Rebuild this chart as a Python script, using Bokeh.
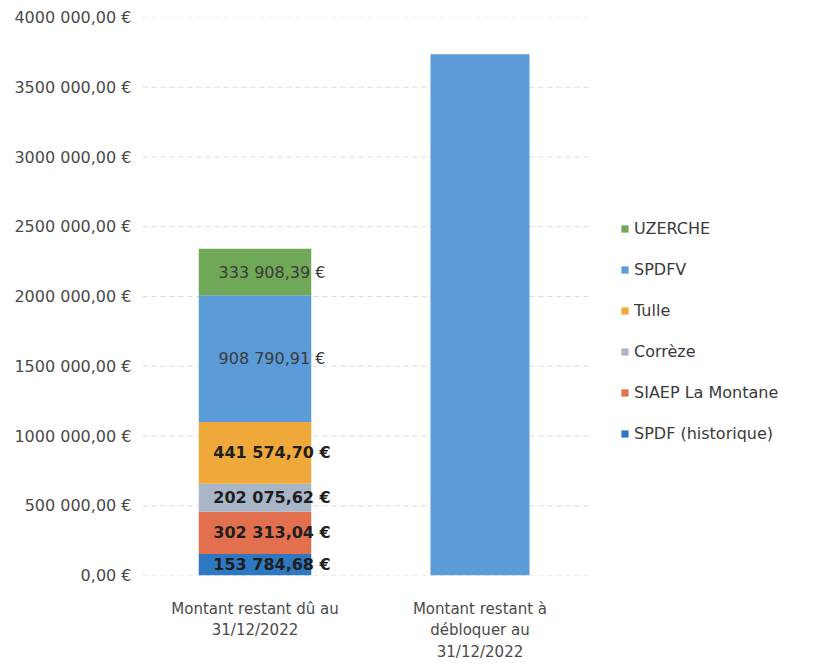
from bokeh.plotting import figure
from bokeh.models import (ColumnDataSource, FixedTicker, Legend, LegendItem, Range1d, LabelSet)
from bokeh.core.properties import value
from bokeh.embed import file_html
from bokeh.resources import INLINE

categories = ["Montant restant dû au\n31/12/2022", "Montant restant à\ndébloquer au\n31/12/2022"]
series = ["SPDF (historique)", "SIAEP La Montane", "Corrèze", "Tulle", "SPDFV", "UZERCHE"]
spdf_hist = [153784.68, 0]
siaep = [302313.04, 0]
correze = [202075.62, 0]
tulle = [441574.70, 0]
spdfv = [908790.91, 3736000.0]
uzerche = [333908.39, 0]
label_texts = ["153 784,68 €", "302 313,04 €", "202 075,62 €", "441 574,70 €", "908 790,91 €", "333 908,39 €"]
label_bold = [True, True, True, True, False, False]
tick_values = [0, 500000, 1000000, 1500000, 2000000, 2500000, 3000000, 3500000, 4000000]
tick_labels = ["0,00 €", "500 000,00 €", "1000 000,00 €", "1500 000,00 €", "2000 000,00 €",
               "2500 000,00 €", "3000 000,00 €", "3500 000,00 €", "4000 000,00 €"]

colors = ["#2E78C2", "#E2704E", "#A9B6C8", "#EFA83A", "#5B9BD8", "#6FA857"]
values = [spdf_hist, siaep, correze, tulle, spdfv, uzerche]

xpos = list(range(len(categories)))
data = {"x": xpos, "w": [0.5, 0.44]}
for s, v in zip(series, values):
    data[s] = v
src = ColumnDataSource(data)

FONT = "DejaVu Sans"
W, H = 812, 664
p = figure(x_range=Range1d(-0.5, -0.5 + (W - 5 - 142) / 225.0), y_range=Range1d(0, 4000000),
           width=W, height=H, output_backend="svg", toolbar_location=None,
           min_border_left=142, min_border_right=5, min_border_top=17, min_border_bottom=H - 575)
p.outline_line_color = None
p.xgrid.visible = False
p.ygrid.visible = False

# horizontal grid lines limited to the category area
p.segment(x0=[-0.5] * len(tick_values), x1=[len(categories) - 0.5] * len(tick_values),
          y0=tick_values, y1=tick_values, line_color="#d5dbe5", line_dash="5 4", line_width=1)

rends = p.vbar_stack(series, x="x", width="w", source=src, color=colors, line_color=None)

# data labels (first category only)
lab_x, lab_y, lab_t = [], [], []
bx, by, bt = [], [], []
cum = 0.0
for v, t, b in zip(values, label_texts, label_bold):
    mid = cum + v[0] / 2
    cum += v[0]
    if b:
        bx.append(xpos[0]); by.append(mid); bt.append(t)
    else:
        lab_x.append(xpos[0]); lab_y.append(mid); lab_t.append(t)
p.add_layout(LabelSet(x="x", y="y", text="t", source=ColumnDataSource(dict(x=lab_x, y=lab_y, t=lab_t)),
                      text_align="center", text_baseline="middle", x_offset=17,
                      text_font=value(FONT), text_font_size="16px", text_color="#3a3a3a"))
p.add_layout(LabelSet(x="x", y="y", text="t", source=ColumnDataSource(dict(x=bx, y=by, t=bt)),
                      text_align="center", text_baseline="middle", x_offset=17,
                      text_font=value(FONT), text_font_size="16px", text_font_style="bold",
                      text_color="#1e1e1e"))

p.yaxis.ticker = FixedTicker(ticks=tick_values)
p.yaxis.major_label_overrides = {v: l for v, l in zip(tick_values, tick_labels)}
p.xaxis.ticker = FixedTicker(ticks=xpos)
p.xaxis.major_label_overrides = {i: c for i, c in zip(xpos, categories)}
for ax in (p.xaxis[0], p.yaxis[0]):
    ax.axis_line_color = None
    ax.major_tick_line_color = None
    ax.minor_tick_line_color = None
    ax.major_label_text_font = FONT
    ax.major_label_text_color = "#4a4a4a"
p.yaxis.major_label_text_font_size = "16px"
p.xaxis.major_label_text_font_size = "15px"
p.yaxis.major_label_standoff = 5
p.xaxis.major_label_standoff = 18

items = [LegendItem(label=s, renderers=[r]) for s, r in zip(series, rends)][::-1]
legend = Legend(items=items, location=(478, 132), orientation="vertical",
                label_text_font=FONT, label_text_font_size="16px", label_text_color="#3a3a3a",
                glyph_width=9, glyph_height=9, label_height=20, spacing=21, padding=0,
                label_standoff=5, border_line_color=None, background_fill_alpha=0, margin=0)
p.add_layout(legend, "center")

open("out.html", "w").write(file_html(p, INLINE))
